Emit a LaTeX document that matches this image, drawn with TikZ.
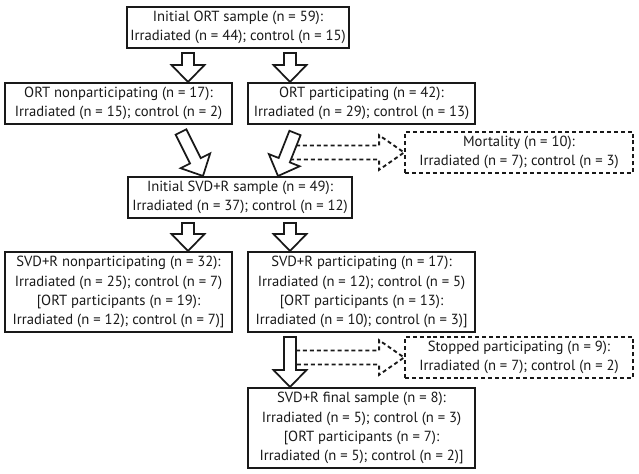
\documentclass[tikz,border=0pt]{standalone}
\usepackage{fontspec}
\setmainfont{PT Sans}
\usetikzlibrary{calc}

\def\shaftw{4.5pt}
\def\headw{12.4pt}
\def\headl{12.75pt}
% hollow block arrow from #2 to #3
\newcommand\fatarrow[3][]{%
  \path ($(#3)!\headl!(#2)$) coordinate (fa-neck);
  \draw[#1] ($(#2)!\shaftw!90:(#3)$) -- ($(fa-neck)!\shaftw!90:(#3)$)
    -- ($(fa-neck)!\headw!90:(#3)$) -- (#3) -- ($(fa-neck)!\headw!-90:(#3)$)
    -- ($(fa-neck)!\shaftw!-90:(#3)$) -- ($(#2)!\shaftw!-90:(#3)$) -- cycle;}

\tikzset{
  box/.style={draw=black!90, line width=1.5pt, align=center, inner sep=0pt,
    font=\fontsize{11}{14.3}\selectfont, text=black!90, minimum height=30.75pt},
  tallbox/.style={box, minimum height=60pt},
  dashbox/.style={box, line width=1.4pt, dash pattern=on 3pt off 2.2pt},
  solidarrow/.style={draw=black!90, line width=1.3pt, fill=white, line join=miter},
  dasharrow/.style={draw=black!90, line width=1.4pt, dash pattern=on 3pt off 2.2pt}
}

\begin{document}
\begin{tikzpicture}[x=0.75pt, y=-0.75pt]
		\useasboundingbox (0,0) rectangle (639,474);

		%%%%% BOXES %%%%%
		\node[box, minimum width=166.5pt] (ort) at (238, 27.5) {Initial ORT sample (n = 59):\\Irradiated (n = 44); control (n = 15)};
		\node[box, minimum width=170.5pt] (ortno) at (118.5, 103.5) {ORT nonparticipating (n = 17):\\Irradiated (n = 15); control (n = 2)};
		\node[box, minimum width=170.5pt] (ortyes) at (361.5, 103.5) {ORT participating (n = 42):\\Irradiated (n = 29); control (n = 13)};
		\node[dashbox, minimum width=171pt] (mort) at (519, 152.5) {Mortality (n = 10):\\Irradiated (n = 7); control (n = 3)};
		\node[box, minimum width=168pt] (samp) at (240, 197.5) {Initial SVD+R sample (n = 49):\\Irradiated (n = 37); control (n = 12)};
		\node[tallbox, minimum width=170.5pt] (nonpart) at (118.5, 292) {SVD+R nonparticipating (n = 32):\\Irradiated (n = 25); control (n = 7)\\{}[ORT participants (n = 19):\\Irradiated (n = 12); control (n = 7)]};
		\node[tallbox, minimum width=170.5pt] (part) at (361.5, 292) {SVD+R participating (n = 17):\\Irradiated (n = 12); control (n = 5)\\{}[ORT participants (n = 13):\\Irradiated (n = 10); control (n = 3)]};
		\node[dashbox, minimum width=171pt] (stop) at (519, 357.5) {Stopped participating (n = 9):\\Irradiated (n = 7); control (n = 2)};
		\node[tallbox, minimum width=170.5pt] (final) at (361.5, 428) {SVD+R final sample (n = 8):\\Irradiated (n = 5); control (n = 3)\\{}[ORT participants (n = 7):\\Irradiated (n = 5); control (n = 2)]};

		%%%%% ARROW ENDS %%%%%
		\coordinate (a1t) at ($(ort.south)+(-50,4)$);
		\coordinate (a2t) at ($(ort.south)+(52,4)$);
		\coordinate (a3t) at ($(ortno.south)+(62.5,7)$);
		\coordinate (a3h) at ($(samp.north)+(-37,0)$);
		\coordinate (a4t) at ($(ortyes.south)+(-66.5,8)$);
		\coordinate (a4h) at ($(samp.north)+(38,0)$);
		\coordinate (a5t) at ($(samp.south)+(-52,4)$);
		\coordinate (a6t) at ($(samp.south)+(50,4)$);
		\coordinate (a7t) at ($(part.south)+(-71.5,4)$);
		\coordinate (d1t) at ($(mort.west)+(-115,0)$);
		\coordinate (d2t) at ($(stop.west)+(-115,0)$);

		%%%%% DROPOUTS %%%%%
		\def\shaftw{5.25pt}\def\headw{13pt}\def\headl{18.75pt}
		\fatarrow[dasharrow]{d1t}{mort.west}
		\fatarrow[dasharrow]{d2t}{stop.west}

		%%%%% FLOW %%%%%
		\def\shaftw{4.5pt}\def\headw{12.4pt}\def\headl{12.75pt}
		\fatarrow[solidarrow]{a1t}{a1t |- ortno.north}
		\fatarrow[solidarrow]{a2t}{a2t |- ortyes.north}
		\fatarrow[solidarrow]{a3t}{a3h}
		\fatarrow[solidarrow]{a4t}{a4h}
		\fatarrow[solidarrow]{a5t}{a5t |- nonpart.north}
		\fatarrow[solidarrow]{a6t}{a6t |- part.north}
		\fatarrow[solidarrow]{a7t}{a7t |- final.north}
	\end{tikzpicture}
\end{document}
